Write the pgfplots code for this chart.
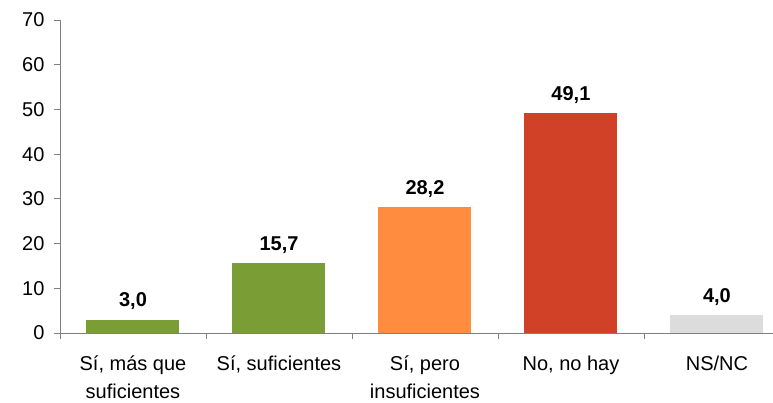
\documentclass[border=0pt]{standalone}
\usepackage{fontspec}
\setmainfont{Liberation Sans}
\usepackage{pgfplots}
\pgfplotsset{compat=1.18}
\definecolor{cgreen}{HTML}{7A9E35}
\definecolor{corange}{HTML}{FF8C3F}
\definecolor{cred}{HTML}{D04127}
\definecolor{cgray}{HTML}{DCDCDC}
\definecolor{caxis}{HTML}{808080}

\begin{document}
\begin{tikzpicture}
\useasboundingbox (-60bp,-70bp) rectangle (713bp,333bp);
\begin{axis}[
    scale only axis, width=713bp, height=313bp,
    xmin=-0.5, xmax=4.384, ymin=0, ymax=70,
    axis x line*=bottom, axis y line*=left,
    axis line style={caxis,-, line width=0.8pt},
    ytick={0,10,...,70},
    xtick={0,...,4},
    xticklabels={{Sí, más que\\suficientes},{Sí, suficientes},{Sí, pero\\insuficientes},{No, no hay},{NS/NC}},
    minor xtick={-0.5,0.5,1.5,2.5,3.5},
    major x tick style={draw=none},
    tick align=outside, major tick length=6bp, minor tick length=6bp,
    every tick/.style={caxis, line width=0.8pt},
    /pgf/number format/assume math mode=true,
    tick label style={font=\fontsize{20bp}{28bp}\selectfont, black},
    xticklabel style={align=center, anchor=north, yshift=-13bp},
    yticklabel style={xshift=-6bp},
    ybar, bar width=0.637,
    nodes near coords={\pgfmathprintnumber[fixed,fixed zerofill,precision=1,use comma]{\pgfplotspointmeta}},
    every node near coord/.append style={font=\bfseries\fontsize{20bp}{24bp}\selectfont, black, yshift=6bp},
  ]
  \addplot[fill=cgreen, draw=none, bar shift=0pt] coordinates {(0,3.0)};
  \addplot[fill=cgreen, draw=none, bar shift=0pt] coordinates {(1,15.7)};
  \addplot[fill=corange, draw=none, bar shift=0pt] coordinates {(2,28.2)};
  \addplot[fill=cred, draw=none, bar shift=0pt] coordinates {(3,49.1)};
  \addplot[fill=cgray, draw=none, bar shift=0pt] coordinates {(4,4.0)};
\end{axis}
\end{tikzpicture}
\end{document}
